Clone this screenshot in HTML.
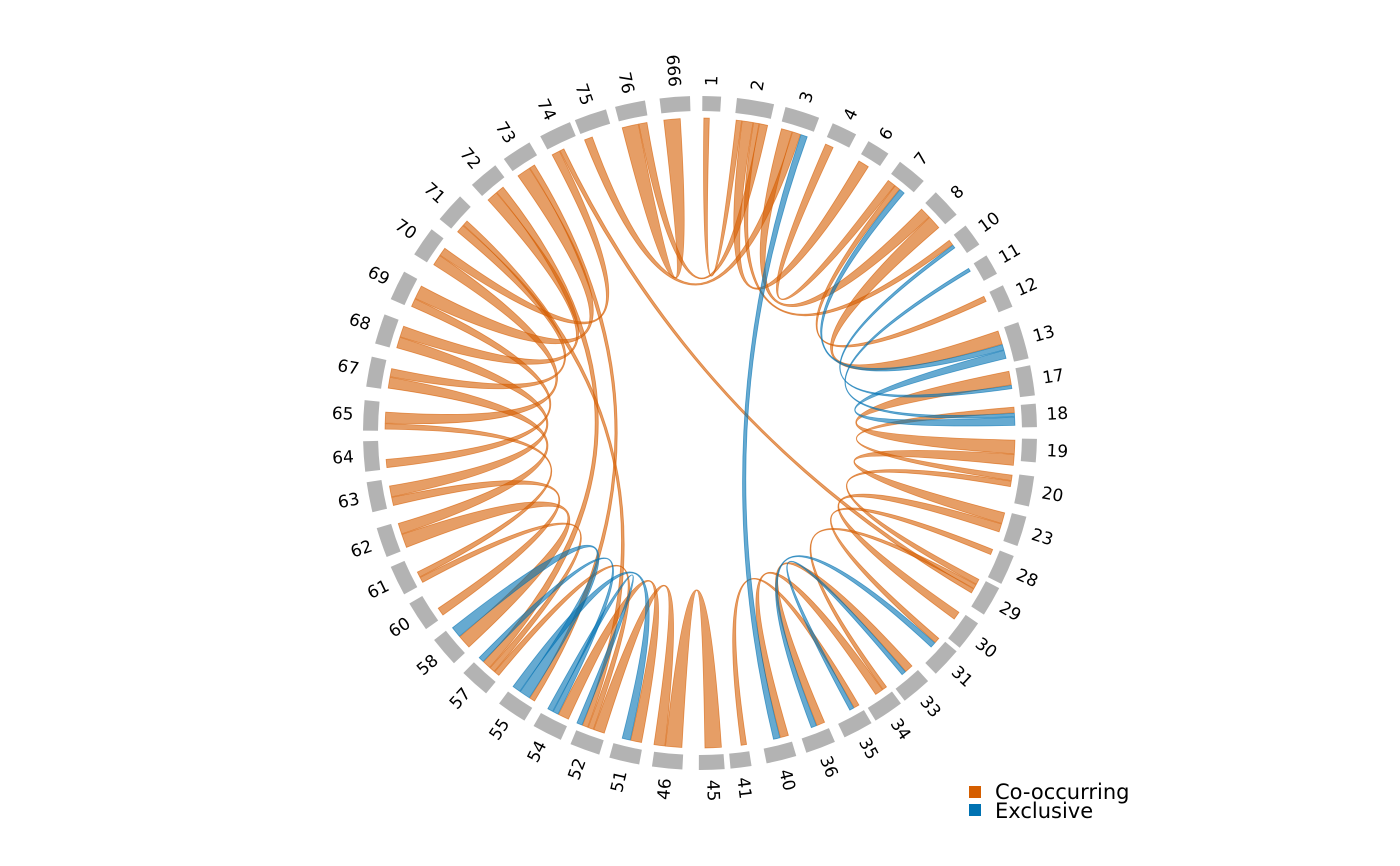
<!DOCTYPE html>
<html><head><meta charset="utf-8"><style>
html,body{margin:0;padding:0;background:#fff;}
svg{display:block;font-family:"DejaVu Sans","Liberation Sans",sans-serif;}
</style></head><body>
<svg id="s" width="1400" height="866" viewBox="0 0 1400 866">
<rect x="969" y="786" width="12" height="12" fill="#D55E00"/>
<rect x="969" y="804" width="12" height="12" fill="#0072B2"/>
<text x="995" y="799" font-size="21">Co-occurring</text>
<text x="995" y="818" font-size="21">Exclusive</text>
</svg>
<script>
var cx=700,cy=433,R1=322,R2=337,RL=315;
var names=[1,2,3,4,6,7,8,10,11,12,13,17,18,19,20,23,28,29,30,31,33,34,35,36,40,41,45,46,51,52,54,55,57,58,60,61,62,63,64,65,67,68,69,70,71,72,73,74,75,76,666];
var ang=[2,9.5,17.7,25.4,32,39,47,54,60,66,74,81,87,93,100,107,114,120,127,133,140,146,152,159,166,173,178,185.6,193,200,207,214,222,229.5,237,244,251,259,266,273,280.5,288,296,304.6,312,320,327,334.5,341,348,355.7];
var hw={1:1.6,2:3.2,3:3,13:3.2,4:2.2,6:2,11:1.8,10:2,12:2,18:2,19:2,45:2.2,41:1.8,666:2.6,76:2.6,75:2.8,74:2.8};
var S=document.getElementById('s'),NS='http://www.w3.org/2000/svg';
function P(a,r){var t=a*Math.PI/180;return [cx+r*Math.sin(t),cy-r*Math.cos(t)];}
function el(t,at,txt){var e=document.createElementNS(NS,t);for(var k in at)e.setAttribute(k,at[k]);if(txt!==undefined)e.textContent=txt;S.insertBefore(e,S.firstChild);return e;}
var idx={},cur={};
names.forEach(function(n,i){idx[n]=i;var h=hw[n]||2.6;cur[n]=ang[i]-h+0.3;
 var a0=ang[i]-h,a1=ang[i]+h,p1=P(a0,R1),p2=P(a1,R1),p3=P(a1,R2),p4=P(a0,R2);
 el('path',{d:'M'+p1+' A'+R1+' '+R1+' 0 0 1 '+p2+' L'+p3+' A'+R2+' '+R2+' 0 0 0 '+p4+'Z',fill:'#b3b3b3'});
 var a=ang[i],q=P(a,R2+10),rot,anc;
 if(a<180){rot=a-90;anc='start';}else{rot=a+90;anc='end';}
 el('text',{x:q[0],y:q[1],'font-size':17,'text-anchor':anc,'dominant-baseline':'central',transform:'rotate('+rot+' '+q[0]+' '+q[1]+')'},String(n));
});
var O='#D55E00',B='#0072B2';
var L=[[666,76,3,O],[1,2,1,O],[2,6,2,O],[2,10,1,O],[3,8,2,O],[4,7,1.5,O],[7,12,1,O],[8,13,2.5,O],[17,19,2.5,O],[18,20,1,O],[19,23,2,O],[20,29,1,O],[23,30,1.5,O],[28,31,1,O],[29,34,0.8,O],[33,36,1.5,O],[34,40,1.5,O],[35,41,1,O],[45,46,3,O],[46,52,2,O],[51,54,2,O],[52,57,1,O],[57,61,1,O],[58,62,2.5,O],[60,63,1.5,O],[61,65,1,O],[62,67,2,O],[63,68,2,O],[64,69,1.5,O],[65,70,2,O],[67,71,1.5,O],[68,72,2,O],[69,73,2.5,O],[70,74,1.5,O],[72,57,1.5,O],[73,55,1,O],[74,29,0.8,O],[75,3,1.5,O],[76,2,1.5,O],[71,52,1,O],
[3,40,1.2,B],[7,13,1,B],[10,17,0.6,B],[11,18,0.6,B],[13,18,1.5,B],[31,36,1,B],[33,35,0.8,B],[55,58,2,B],[54,57,1,B],[51,55,1.5,B],[52,54,1,B]];
var g=document.createElementNS(NS,'g');S.appendChild(g);
L.forEach(function(l){var a=l[0],b=l[1],w=l[2];
 var a0=cur[a],a1=a0+w;cur[a]=a1+0.1;var b0=cur[b],b1=b0+w;cur[b]=b1+0.1;
 var p1=P(a0,RL),p2=P(a1,RL),p3=P(b0,RL),p4=P(b1,RL);
 var d='M'+p1+' A'+RL+' '+RL+' 0 0 1 '+p2+' Q'+cx+' '+cy+' '+p3+' A'+RL+' '+RL+' 0 0 1 '+p4+' Q'+cx+' '+cy+' '+p1+'Z';
 var e=document.createElementNS(NS,'path');e.setAttribute('d',d);e.setAttribute('fill',l[3]);e.setAttribute('fill-opacity',0.6);e.setAttribute('stroke',l[3]);e.setAttribute('stroke-opacity',0.6);e.setAttribute('stroke-width',0.8);g.appendChild(e);
});
</script>
</body></html>
